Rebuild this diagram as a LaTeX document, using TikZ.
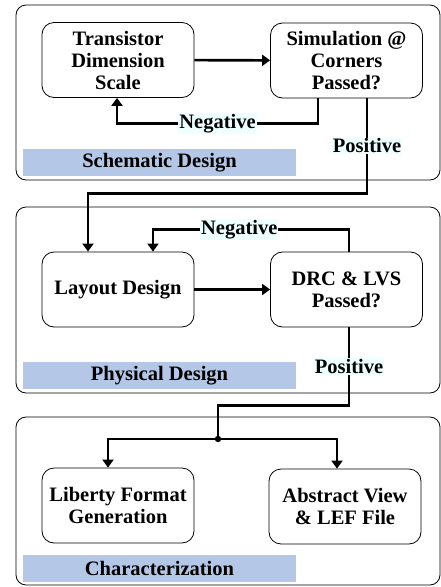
\documentclass[tikz,border=0pt]{standalone}
\usepackage{fontspec}
\setmainfont{Liberation Serif}
\usetikzlibrary{arrows.meta}

\definecolor{barblue}{HTML}{B4C7E7}
\definecolor{tagcyan}{HTML}{EEFFFF}

\tikzset{
  panel/.style={draw, rounded corners=10pt, line width=0.8pt},
  block/.style={draw, rounded corners=12pt, line width=0.8pt, align=center,
    minimum width=152pt, minimum height=75pt, inner sep=2pt,
    font=\bfseries\fontsize{20.5}{22}\selectfont},
  bar/.style={fill=barblue, minimum width=273pt, minimum height=27pt, inner sep=0pt,
    font=\bfseries\fontsize{20.5}{22}\selectfont},
  tag/.style={fill=tagcyan, inner sep=1pt, font=\bfseries\fontsize{20.5}{22}\selectfont},
  flow/.style={line width=2.6pt, -{Triangle[length=8pt,width=11pt]}},
  wire/.style={line width=2.6pt},
}

\begin{document}
\begin{tikzpicture}[x=1pt, y=-1pt]

\useasboundingbox (0,0) rectangle (441,587);

% three stages
\draw[panel] (16,5) rectangle (440,180);
\draw[panel] (16,207) rectangle (440,393);
\draw[panel] (16,417) rectangle (440,585);

\node[bar] (schem) at (159.5,162.5) {Schematic Design};
\node[bar] (phys) at (159.5,375.5) {Physical Design};
\node[bar] (charz) at (159.5,568.5) {Characterization};

% schematic design
\node[block] (scale) at (118,60) {Transistor\\Dimension\\Scale};
\node[block] (sim) at (346.5,60.5) {Simulation @\\Corners\\Passed?};

\draw[flow] (scale) -- (sim);
\draw[flow] ([xshift=-28.5pt]sim.south) -- ++(0,25) -| node[tag, pos=0.25] {Negative} ([xshift=-1pt]scale.south);

% physical design
\node[block] (layout) at (118,289.5) {Layout Design};
\node[block] (drc) at (346.5,289.5) {DRC \& LVS\\Passed?};

\draw[flow] ([xshift=20.5pt]sim.south) -- node[tag] {Positive} ++(0,95) -| ([xshift=-30pt]layout.north);
\draw[flow] (layout) -- (drc);
\draw[flow] ([xshift=2.5pt]drc.north) -- ++(0,-22) -| node[tag, pos=0.28] {Negative} ([xshift=35pt]layout.north);

% characterization
\node[block] (lib) at (118,505.5) {Liberty Format\\Generation};
\node[block] (lef) at (345,506.5) {Abstract View\\\& LEF File};

\coordinate (split) at (218,439);
\draw[wire] ([xshift=2.5pt]drc.south) -- node[tag] {Positive} ++(0,78) -| (split);
\fill (split) circle (3.2pt);
\draw[flow] (split) -| ([xshift=-10pt]lib.north);
\draw[flow] (split) -| ([xshift=-8pt]lef.north);

\end{tikzpicture}
\end{document}
